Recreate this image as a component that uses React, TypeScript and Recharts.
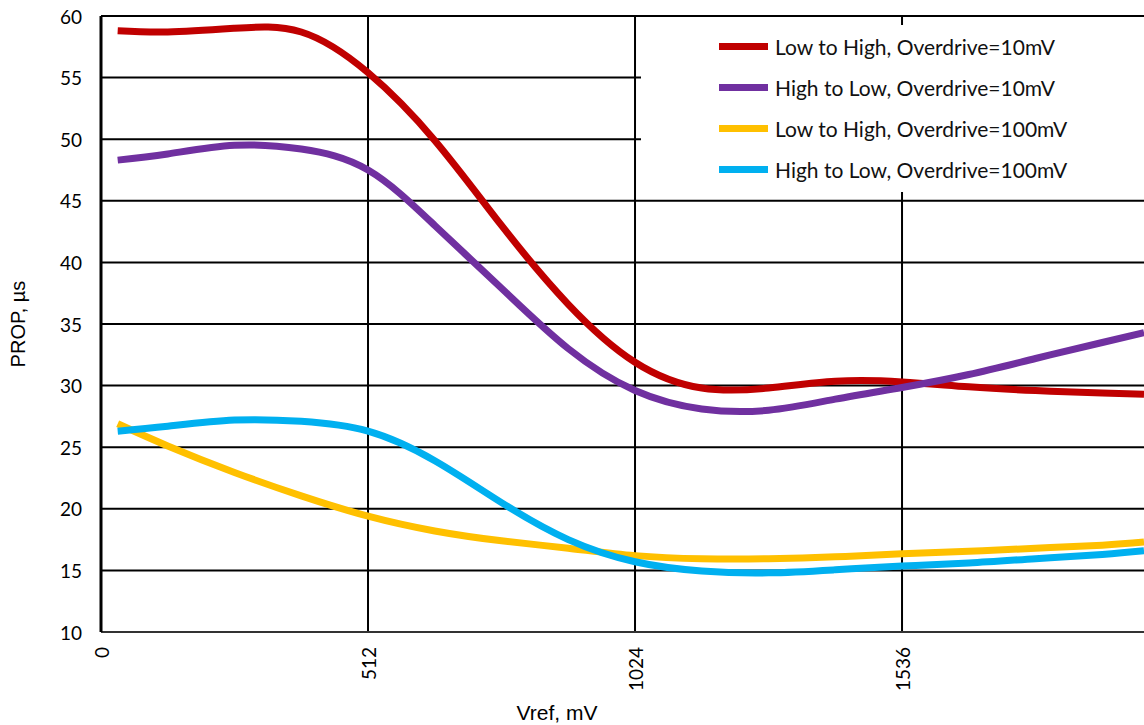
import React from 'react';
import { LineChart, Line, XAxis, YAxis, CartesianGrid } from 'recharts';

const vref = [32, 128, 256, 384, 512, 640, 768, 896, 1024, 1152, 1280, 1408, 1536, 1664, 1792, 1920, 2000];
const lowHigh10 = [58.8, 58.7, 59.0, 58.7, 55.4, 49.9, 43.0, 36.6, 31.9, 29.8, 29.8, 30.35, 30.3, 29.9, 29.6, 29.4, 29.3];
const highLow10 = [48.3, 48.8, 49.5, 49.2, 47.5, 43.0, 37.9, 33.0, 29.6, 28.1, 28.0, 28.9, 29.85, 30.9, 32.2, 33.5, 34.3];
const lowHigh100 = [26.9, 25.1, 22.95, 21.05, 19.4, 18.2, 17.4, 16.8, 16.2, 15.95, 15.95, 16.1, 16.35, 16.55, 16.8, 17.05, 17.3];
const highLow100 = [26.3, 26.7, 27.2, 27.1, 26.3, 23.9, 20.5, 17.5, 15.7, 14.95, 14.8, 15.05, 15.35, 15.6, 15.95, 16.3, 16.6];

const xTicks = [0, 512, 1024, 1536];
const yTicks = [10, 15, 20, 25, 30, 35, 40, 45, 50, 55, 60];

const seriesNames = [
  'Low to High, Overdrive=10mV',
  'High to Low, Overdrive=10mV',
  'Low to High, Overdrive=100mV',
  'High to Low, Overdrive=100mV',
];
const seriesColors = ['#C00000', '#7030A0', '#FFC000', '#00B0F0'];
const seriesValues = [lowHigh10, highLow10, lowHigh100, highLow100];
const keys = ['s0', 's1', 's2', 's3'];

const data = vref.map((v, i) => {
  const row: any = { v };
  keys.forEach((k, j) => { row[k] = seriesValues[j][i]; });
  return row;
});

const FONT = 'Lato, "Noto Sans", sans-serif';
const TITLE_FONT = '"Liberation Sans", Arial, sans-serif';

const XTick = (props: any) => {
  const { x, payload } = props;
  const y0 = 647;
  return (
    <text
      x={x}
      y={y0}
      transform={`rotate(-90 ${x} ${y0})`}
      textAnchor="end"
      dominantBaseline="central"
      fontFamily={FONT}
      fontSize={19}
      fill="#000"
    >
      {payload.value}
    </text>
  );
};

const YTick = (props: any) => {
  const { y, payload } = props;
  return (
    <text x={82} y={y} textAnchor="end" dominantBaseline="central" fontFamily={FONT} fontSize={19} fill="#000">
      {payload.value}
    </text>
  );
};

const YLabel = (props: any) => {
  const vb = props.viewBox || {};
  const cy = (vb.y || 16) + (vb.height || 616) / 2;
  return (
    <text x={25} y={cy} transform={`rotate(-90 25 ${cy})`} textAnchor="middle" fontFamily={TITLE_FONT} fontSize={20} fill="#000">
      PROP, µs
    </text>
  );
};

const XLabel = () => (
  <text x={557} y={712} textAnchor="middle" dominantBaseline="central" fontFamily={TITLE_FONT} fontSize={21} fill="#000">
    Vref, mV
  </text>
);

export default function App() {
  return (
    <div style={{ position: 'absolute', left: 0, top: 0, width: 1144, height: 725, background: '#fff' }}>
      <LineChart width={1144} height={725} data={data} margin={{ top: 16, right: 0, bottom: 0, left: 0 }}>
        <CartesianGrid stroke="#000" strokeWidth={2} horizontalValues={yTicks} verticalValues={xTicks} />
        <XAxis
          dataKey="v"
          type="number"
          domain={[0, 2000]}
          ticks={xTicks}
          interval={0}
          height={93}
          tick={<XTick />}
          tickLine={false}
          axisLine={{ stroke: '#333', strokeWidth: 2 }}
          allowDataOverflow
          label={<XLabel />}
        />
        <YAxis
          type="number"
          domain={[10, 60]}
          ticks={yTicks}
          interval={0}
          width={101}
          tick={<YTick />}
          tickLine={false}
          axisLine={{ stroke: '#000', strokeWidth: 3 }}
          allowDataOverflow
          label={<YLabel />}
        />
        {keys.map((k, j) => (
          <Line
            key={k}
            dataKey={k}
            name={seriesNames[j]}
            stroke={seriesColors[j]}
            strokeWidth={7}
            type="natural"
            dot={false}
            activeDot={false}
            isAnimationActive={false}
          />
        ))}
      </LineChart>
      <div style={{ position: 'absolute', left: 641, top: 25, width: 503, height: 167, background: '#fff', fontFamily: FONT }}>
        {seriesNames.map((name, i) => (
          <div key={i} style={{ position: 'absolute', left: 78, top: 21 + i * 41 - 13, height: 26, display: 'flex', alignItems: 'center' }}>
            <div style={{ width: 49, height: 7, background: seriesColors[i] }} />
            <span style={{ marginLeft: 7, fontSize: 21, color: '#111', whiteSpace: 'nowrap' }}>{name}</span>
          </div>
        ))}
      </div>
    </div>
  );
}
